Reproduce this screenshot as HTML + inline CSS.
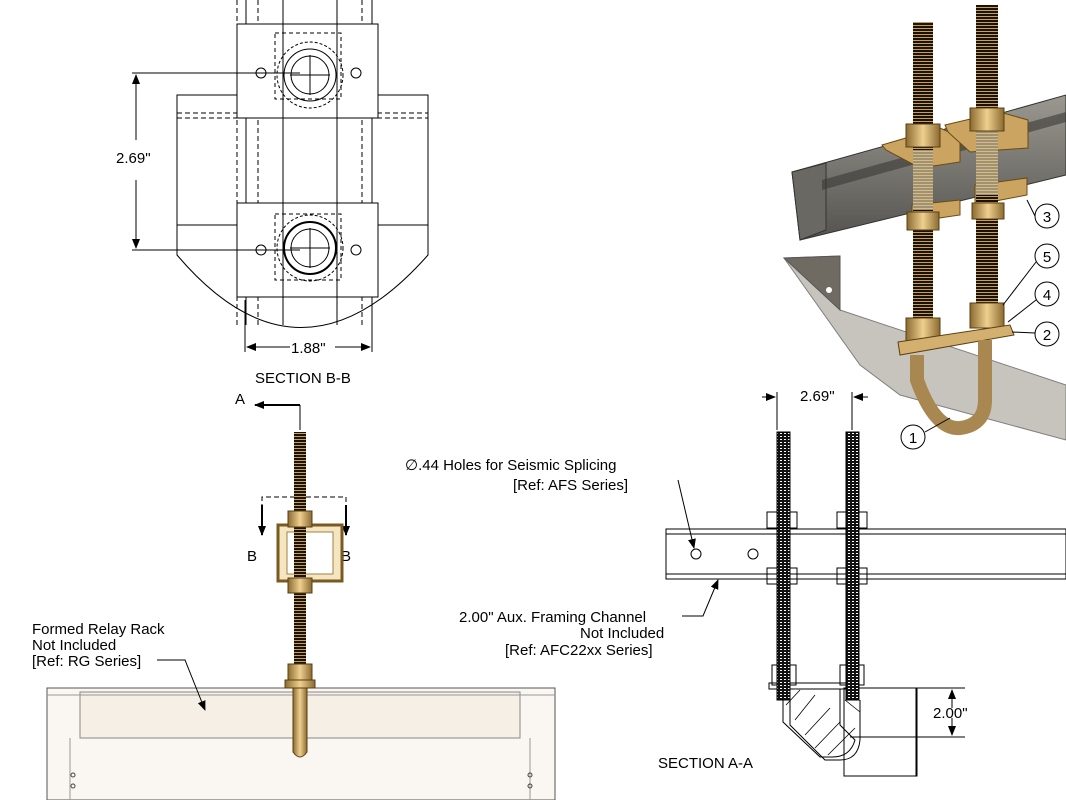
<!DOCTYPE html>
<html><head><meta charset="utf-8"><style>
html,body{margin:0;padding:0;background:#fff;width:1066px;height:800px;overflow:hidden}
svg text{font-family:"Liberation Sans",Arial,sans-serif;fill:#000}
</style></head><body>
<svg width="1066" height="800" viewBox="0 0 1066 800" xmlns="http://www.w3.org/2000/svg">
<defs>
<marker id="ar" markerWidth="10" markerHeight="8" refX="9" refY="4" orient="auto" markerUnits="userSpaceOnUse"><path d="M0,0 L10,4 L0,8z" fill="#000"/></marker>
<pattern id="thr" width="6" height="3" patternUnits="userSpaceOnUse"><rect width="6" height="3" fill="#1a1208"/><rect y="1" width="6" height="1" fill="#c8a050"/></pattern>
<pattern id="thrbw" width="4" height="3" patternUnits="userSpaceOnUse"><rect width="4" height="3" fill="#111"/><rect y="1" width="2" height="1" fill="#fff"/></pattern>
<linearGradient id="brass" x1="0" x2="1"><stop offset="0" stop-color="#8a6a30"/><stop offset=".5" stop-color="#f0d090"/><stop offset="1" stop-color="#8a6a30"/></linearGradient>
<linearGradient id="steel" x1="0" y1="0" x2="0" y2="1"><stop offset="0" stop-color="#9a9890"/><stop offset="1" stop-color="#55534f"/></linearGradient>
</defs>
<g fill="none" stroke="#000" stroke-width="1">
<line x1="237" y1="0" x2="237" y2="325" stroke-dasharray="5,3"/>
<line x1="246" y1="0" x2="246" y2="325"/>
<line x1="258" y1="0" x2="258" y2="325" stroke-dasharray="5,3"/>
<line x1="283" y1="0" x2="283" y2="325"/>
<line x1="337" y1="0" x2="337" y2="325"/>
<line x1="362" y1="0" x2="362" y2="325" stroke-dasharray="5,3"/>
<line x1="372" y1="0" x2="372" y2="325"/>
<rect x="177" y="95" width="251" height="130"/>
<line x1="177" y1="113" x2="428" y2="113" stroke-dasharray="5,3"/>
<line x1="177" y1="118" x2="428" y2="118" stroke-dasharray="5,3"/>
<path d="M177,225 L177,255 Q300,400 428,255 L428,225"/>
<rect x="237" y="24" width="141" height="94" fill="#fff"/>
<rect x="237" y="203" width="141" height="94" fill="#fff"/>
<line x1="283" y1="24" x2="283" y2="118"/><line x1="337" y1="24" x2="337" y2="118"/>
<line x1="283" y1="203" x2="283" y2="297"/><line x1="337" y1="203" x2="337" y2="297"/>
<rect x="275" y="33" width="66" height="66" stroke-dasharray="4,3"/>
<rect x="275" y="214" width="66" height="66" stroke-dasharray="4,3"/>
<circle cx="310" cy="75" r="33" stroke-dasharray="3,2"/><circle cx="310" cy="75" r="26"/><circle cx="310" cy="75" r="19"/>
<circle cx="310" cy="248" r="33" stroke-dasharray="3,2"/><circle cx="310" cy="248" r="26" stroke-width="2"/><circle cx="310" cy="248" r="19"/>
<line x1="290" y1="75" x2="330" y2="75"/><line x1="310" y1="55" x2="310" y2="95"/>
<line x1="290" y1="248" x2="330" y2="248"/><line x1="310" y1="228" x2="310" y2="268"/>
<circle cx="261" cy="73" r="5"/><circle cx="356" cy="73" r="5"/>
<circle cx="261" cy="250" r="5"/><circle cx="356" cy="250" r="5"/>
<line x1="132" y1="73" x2="300" y2="73"/><line x1="132" y1="250" x2="300" y2="250"/>
<line x1="136" y1="140" x2="136" y2="75" marker-end="url(#ar)"/>
<line x1="136" y1="180" x2="136" y2="248" marker-end="url(#ar)"/>
<line x1="245" y1="300" x2="245" y2="352"/><line x1="372" y1="300" x2="372" y2="352"/>
<line x1="290" y1="347" x2="247" y2="347" marker-end="url(#ar)"/>
<line x1="335" y1="347" x2="370" y2="347" marker-end="url(#ar)"/>
</g>
<text x="116" y="163" font-size="15">2.69"</text>
<text x="291" y="353" font-size="15">1.88"</text>
<text x="255" y="383" font-size="15">SECTION B-B</text>

<g fill="none" stroke="#000">
<line x1="300" y1="405" x2="300" y2="430"/><line x1="300" y1="405" x2="255" y2="405" marker-end="url(#ar)" stroke-width="2"/>
<line x1="300" y1="760" x2="300" y2="775"/><line x1="300" y1="775" x2="255" y2="775" marker-end="url(#ar)" stroke-width="2"/>
<path d="M262,525 L262,497 L346,497 L346,525" stroke-dasharray="5,3"/>
<line x1="262" y1="505" x2="262" y2="535" marker-end="url(#ar)" stroke-width="2"/>
<line x1="346" y1="505" x2="346" y2="535" marker-end="url(#ar)" stroke-width="2"/>
</g>
<text x="235" y="404" font-size="15">A</text>
<text x="235" y="778" font-size="15">A</text>
<text x="247" y="561" font-size="15">B</text>
<text x="341" y="561" font-size="15">B</text>
<rect x="47" y="688" width="508" height="112" fill="#faf6f1" stroke="#555"/>
<rect x="80" y="692" width="440" height="46" fill="#f5efe6" stroke="#888"/>
<line x1="47" y1="695" x2="555" y2="695" stroke="#999"/>
<line x1="70" y1="738" x2="70" y2="800" stroke="#999"/><line x1="530" y1="738" x2="530" y2="800" stroke="#999"/>
<circle cx="73" cy="775" r="2" fill="none" stroke="#444"/><circle cx="73" cy="786" r="2" fill="none" stroke="#444"/>
<circle cx="530" cy="775" r="2" fill="none" stroke="#444"/><circle cx="530" cy="786" r="2" fill="none" stroke="#444"/>
<rect x="294" y="432" width="12" height="256" fill="url(#thr)"/>
<rect x="278" y="525" width="64" height="56" fill="#f4e6c0" stroke="#7a5a20" stroke-width="3"/>
<rect x="287" y="532" width="46" height="42" fill="#fff" stroke="#a08040"/>
<rect x="294" y="525" width="12" height="56" fill="url(#thr)"/>
<rect x="288" y="511" width="24" height="16" fill="url(#brass)" stroke="#5a4010"/>
<rect x="288" y="578" width="24" height="15" fill="url(#brass)" stroke="#5a4010"/>
<rect x="288" y="664" width="24" height="16" fill="url(#brass)" stroke="#5a4010"/>
<rect x="285" y="680" width="30" height="8" fill="url(#brass)" stroke="#5a4010"/>
<path d="M293,688 L293,752 Q300,762 307,752 L307,688z" fill="url(#brass)" stroke="#5a4010"/>
<text x="32" y="634" font-size="15">Formed Relay Rack</text>
<text x="32" y="650" font-size="15">Not Included</text>
<text x="32" y="666" font-size="15">[Ref: RG Series]</text>
<path d="M157,660 L185,660 L205,710" fill="none" stroke="#000" marker-end="url(#ar)"/>

<g fill="none" stroke="#000">
<line x1="777" y1="392" x2="777" y2="430"/><line x1="852" y1="392" x2="852" y2="430"/>
<line x1="762" y1="397" x2="775" y2="397" marker-end="url(#ar)"/>
<line x1="868" y1="397" x2="854" y2="397" marker-end="url(#ar)"/>
<rect x="666" y="529" width="400" height="50"/>
<line x1="666" y1="534" x2="1066" y2="534"/><line x1="666" y1="574" x2="1066" y2="574"/>
<circle cx="696" cy="554" r="5"/><circle cx="753" cy="554" r="5"/>
<path d="M678,480 L694,548" marker-end="url(#ar)"/>
<path d="M682,616 L703,616 L718,580" marker-end="url(#ar)"/>
<rect x="767" y="512" width="30" height="16"/><rect x="837" y="512" width="30" height="16"/>
<rect x="767" y="568" width="30" height="16"/><rect x="837" y="568" width="30" height="16"/>
<rect x="772" y="665" width="24" height="20"/><rect x="840" y="665" width="24" height="20"/>
<rect x="769" y="683" width="90" height="6"/>
<path d="M796,689 L840,689 L840,725 L855,740 Q850,758 830,757 L820,757 L783,722 L783,700" fill="#fff"/>
<path d="M790,700 L790,725 L825,760 L840,760 Q858,760 860,740 L860,700"/>
<path d="M786,705 L800,690 M795,720 L815,695 M805,735 L830,708 M815,748 L840,722 M828,755 L855,728 M845,700 L860,712" stroke-width=".8"/>
<rect x="844" y="688" width="73" height="88"/><line x1="916" y1="688" x2="916" y2="776"/>
<line x1="850" y1="737" x2="965" y2="737"/><line x1="917" y1="688" x2="965" y2="688"/>
<line x1="952" y1="708" x2="952" y2="690" marker-end="url(#ar)"/>
<line x1="952" y1="718" x2="952" y2="735" marker-end="url(#ar)"/>
</g>
<rect x="777" y="432" width="13" height="268" fill="url(#thrbw)" stroke="#000"/>
<rect x="846" y="432" width="13" height="268" fill="url(#thrbw)" stroke="#000"/>
<text x="800" y="401" font-size="15">2.69"</text>
<text x="405" y="470" font-size="15">∅.44 Holes for Seismic Splicing</text>
<text x="513" y="490" font-size="15">[Ref: AFS Series]</text>
<text x="459" y="622" font-size="15">2.00" Aux. Framing Channel</text>
<text x="580" y="638" font-size="15">Not Included</text>
<text x="505" y="655" font-size="15">[Ref: AFC22xx Series]</text>
<text x="933" y="718" font-size="15">2.00"</text>
<text x="658" y="768" font-size="15">SECTION A-A</text>

<polygon points="792,172 1066,95 1066,175 800,240" fill="url(#steel)" stroke="#333"/>
<polygon points="792,172 826,163 826,230 800,240" fill="#6a6862" stroke="#333"/>
<polygon points="822,180 1066,112 1066,122 822,190" fill="#3a3936" opacity=".6"/>
<polygon points="784,258 840,256 840,310 1066,385 1066,440 900,395 860,365" fill="#b5b0a8" opacity=".75" stroke="#555"/>
<polygon points="784,258 840,256 840,310" fill="#6f6a62" stroke="#555"/>
<circle cx="829" cy="290" r="3" fill="#fff"/>
<polygon points="882,145 940,128 960,137 960,162 920,168 886,150" fill="#caa460" stroke="#6a4a10"/>
<polygon points="945,125 1000,112 1028,120 1028,148 970,152 948,132" fill="#caa460" stroke="#6a4a10"/>
<polygon points="912,205 960,200 960,215 912,222" fill="#caa460" stroke="#6a4a10"/>
<polygon points="975,185 1027,178 1027,195 975,205" fill="#caa460" stroke="#6a4a10"/>
<rect x="913" y="22" width="20" height="300" fill="url(#thr)"/>
<rect x="976" y="5" width="22" height="300" fill="url(#thr)"/>
<polygon points="913,150 933,150 933,210 913,210" fill="#d8c8a0" opacity=".7"/>
<polygon points="976,125 998,125 998,195 976,195" fill="#d8c8a0" opacity=".7"/>
<rect x="906" y="124" width="34" height="23" fill="url(#brass)" stroke="#5a4010"/>
<rect x="970" y="108" width="34" height="23" fill="url(#brass)" stroke="#5a4010"/>
<rect x="907" y="212" width="32" height="18" fill="url(#brass)" stroke="#5a4010"/>
<rect x="972" y="203" width="32" height="16" fill="url(#brass)" stroke="#5a4010"/>
<rect x="906" y="318" width="34" height="25" fill="url(#brass)" stroke="#5a4010"/>
<rect x="970" y="303" width="34" height="25" fill="url(#brass)" stroke="#5a4010"/>
<polygon points="898,342 1010,325 1014,335 900,355" fill="#d4b070" stroke="#5a4010"/>
<path d="M917,355 L917,380 Q935,430 960,428 Q985,425 985,400 L985,340" fill="none" stroke="#a88850" stroke-width="14"/>
<g fill="#fff" stroke="#000">
<circle cx="1047" cy="216" r="12"/><circle cx="1047" cy="256" r="12"/><circle cx="1047" cy="294" r="12"/><circle cx="1047" cy="334" r="12"/><circle cx="913" cy="437" r="12"/>
</g>
<g stroke="#000" fill="none"><line x1="1035" y1="216" x2="1027" y2="200"/><line x1="1036" y1="262" x2="1003" y2="305"/><line x1="1036" y1="300" x2="1008" y2="322"/><line x1="1035" y1="333" x2="1012" y2="332"/><line x1="925" y1="432" x2="950" y2="418"/></g>
<g font-size="15" text-anchor="middle"><text x="1047" y="222">3</text><text x="1047" y="262">5</text><text x="1047" y="300">4</text><text x="1047" y="340">2</text><text x="913" y="443">1</text></g>
</svg>
</body></html>
